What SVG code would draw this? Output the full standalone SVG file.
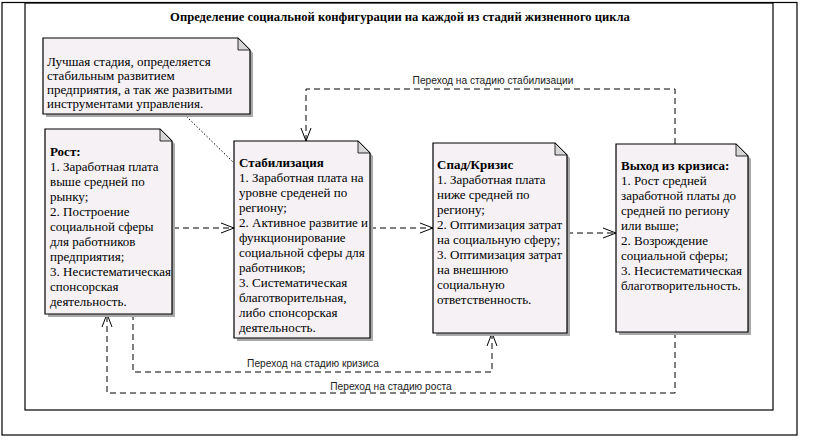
<svg xmlns="http://www.w3.org/2000/svg" width="819" height="446" viewBox="0 0 819 446">
<style>
.frame{fill:none;stroke:#000;stroke-width:1.2}
.shadow{fill:#a9a9a9}
.body{fill:#f5f1f5;stroke:#000;stroke-width:1.2}
.fold{fill:#d6d6d6;stroke:#000;stroke-width:0.8}
.t{font-family:"Liberation Serif","Times New Roman",serif;font-size:13px;fill:#000}
.b{font-weight:bold}
.title{font-family:"Liberation Serif","Times New Roman",serif;font-size:12.6px;font-weight:bold;fill:#000}
.lbl{font-family:"Liberation Sans",Arial,sans-serif;font-size:10.2px;fill:#222}
.dash{fill:none;stroke:#000;stroke-width:1;stroke-dasharray:6,4}
.dot{fill:none;stroke:#000;stroke-width:1;stroke-dasharray:1.5,2}
</style>
<defs>
<marker id="open" markerUnits="userSpaceOnUse" markerWidth="14" markerHeight="12" refX="13" refY="6" orient="auto">
<path d="M0,1 L13,6 L0,11" fill="none" stroke="#000" stroke-width="1"/>
</marker>
</defs>
<rect width="819" height="446" fill="#fff"/>
<rect class="frame" x="2" y="2.5" width="795" height="432.5"/>
<rect class="frame" x="25" y="3" width="748" height="407"/>
<text class="title" x="400" y="21" text-anchor="middle">Определение социальной конфигурации на каждой из стадий жизненного цикла</text>

<g id="connectors">
<path class="dot" d="M184,114 L234,163"/>
<path class="dash" d="M173,228 L234,228" marker-end="url(#open)"/>
<path class="dash" d="M370,228 L433,228" marker-end="url(#open)"/>
<path class="dash" d="M567,233 L616,233" marker-end="url(#open)"/>
<path class="dash" d="M675,144 L675,89 L306,89 L306,141" marker-end="url(#open)"/>
<path class="dash" d="M133,314 L133,372 L492,372 L492,333" marker-end="url(#open)"/>
<path class="dash" d="M675,332 L675,393 L107,393 L107,314" marker-end="url(#open)"/>
<text class="lbl" x="493" y="84" text-anchor="middle">Переход на стадию стабилизации</text>
<text class="lbl" x="313" y="367" text-anchor="middle">Переход на стадию кризиса</text>
<text class="lbl" x="391" y="390" text-anchor="middle">Переход на стадию роста</text>
</g>

<g id="note">
<path class="shadow" d="M46,41 L241,41 L253,53 L253,117 L46,117 Z"/>
<path class="body" d="M43,38 L238,38 L250,50 L250,114 L43,114 Z"/>
<path class="fold" d="M238,38 L238,50 L250,50 Z"/>
<text class="t" x="47" y="66"><tspan x="47">Лучшая стадия, определяется</tspan><tspan x="47" dy="14">стабильным развитием</tspan><tspan x="47" dy="14">предприятия, а так же развитыми</tspan><tspan x="47" dy="14">инструментами управления.</tspan></text>
</g>

<g id="rost">
<path class="shadow" d="M48,132 L163,132 L175,144 L175,317 L48,317 Z"/>
<path class="body" d="M45,129 L160,129 L172,141 L172,314 L45,314 Z"/>
<path class="fold" d="M160,129 L160,141 L172,141 Z"/>
<text class="t" x="50" y="156"><tspan x="50" class="b">Рост:</tspan><tspan x="50" dy="15">1. Заработная плата</tspan><tspan x="50" dy="15">выше средней по</tspan><tspan x="50" dy="15">рынку;</tspan><tspan x="50" dy="15">2. Построение</tspan><tspan x="50" dy="15">социальной сферы</tspan><tspan x="50" dy="15">для работников</tspan><tspan x="50" dy="15">предприятия;</tspan><tspan x="50" dy="15">3. Несистематическая</tspan><tspan x="50" dy="15">спонсорская</tspan><tspan x="50" dy="15">деятельность.</tspan></text>
</g>

<g id="stab">
<path class="shadow" d="M237,144 L361,144 L373,156 L373,341 L237,341 Z"/>
<path class="body" d="M234,141 L358,141 L370,153 L370,338 L234,338 Z"/>
<path class="fold" d="M358,141 L358,153 L370,153 Z"/>
<text class="t" x="239" y="167"><tspan x="239" class="b">Стабилизация</tspan><tspan x="239" dy="15">1. Заработная плата на</tspan><tspan x="239" dy="15">уровне среденей по</tspan><tspan x="239" dy="15">региону;</tspan><tspan x="239" dy="15">2. Активное развитие и</tspan><tspan x="239" dy="15">функционирование</tspan><tspan x="239" dy="15">социальной сферы для</tspan><tspan x="239" dy="15">работников;</tspan><tspan x="239" dy="15">3. Систематическая</tspan><tspan x="239" dy="15">благотворительная,</tspan><tspan x="239" dy="15">либо спонсорская</tspan><tspan x="239" dy="15">деятельность.</tspan></text>
</g>

<g id="spad">
<path class="shadow" d="M436,146 L558,146 L570,158 L570,336 L436,336 Z"/>
<path class="body" d="M433,143 L555,143 L567,155 L567,333 L433,333 Z"/>
<path class="fold" d="M555,143 L555,155 L567,155 Z"/>
<text class="t" x="437" y="169"><tspan x="437" class="b">Спад/Кризис</tspan><tspan x="437" dy="15">1. Заработная плата</tspan><tspan x="437" dy="15">ниже средней по</tspan><tspan x="437" dy="15">региону;</tspan><tspan x="437" dy="15">2. Оптимизация затрат</tspan><tspan x="437" dy="15">на социальную сферу;</tspan><tspan x="437" dy="15">3. Оптимизация затрат</tspan><tspan x="437" dy="15">на внешнюю</tspan><tspan x="437" dy="15">социальную</tspan><tspan x="437" dy="15">ответственность.</tspan></text>
</g>

<g id="exit">
<path class="shadow" d="M619,147 L739,147 L751,159 L751,335 L619,335 Z"/>
<path class="body" d="M616,144 L736,144 L748,156 L748,332 L616,332 Z"/>
<path class="fold" d="M736,144 L736,156 L748,156 Z"/>
<text class="t" x="621" y="170"><tspan x="621" class="b">Выход из кризиса:</tspan><tspan x="621" dy="15">1. Рост средней</tspan><tspan x="621" dy="15">заработной платы до</tspan><tspan x="621" dy="15">средней по региону</tspan><tspan x="621" dy="15">или выше;</tspan><tspan x="621" dy="15">2. Возрождение</tspan><tspan x="621" dy="15">социальной сферы;</tspan><tspan x="621" dy="15">3. Несистематическая</tspan><tspan x="621" dy="15">благотворительность.</tspan></text>
</g>
</svg>
